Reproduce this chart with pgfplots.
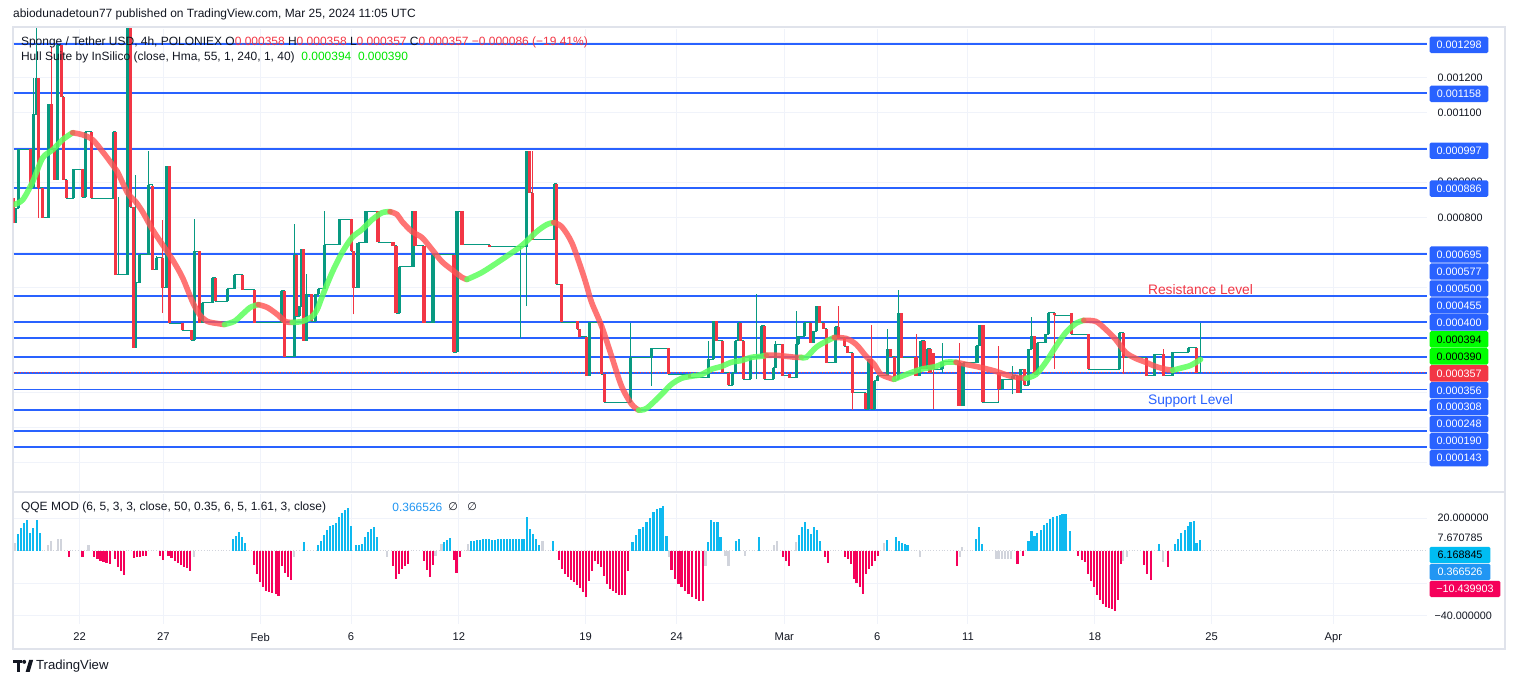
\documentclass[border=0pt]{standalone}
\usepackage{fontspec}
\setmainfont{Liberation Sans}
\newfontfamily\dejavu{DejaVu Sans}
\usepackage{pgfplots}
\pgfplotsset{compat=1.18}
\usepackage{pgfplotstable}
\definecolor{cgreen}{HTML}{089981}
\definecolor{cred}{HTML}{F23645}
\definecolor{lblue}{HTML}{2962FF}
\definecolor{hullg}{HTML}{5CFF5C}
\definecolor{hullr}{HTML}{FF5252}
\definecolor{qblue}{HTML}{0EB9F0}
\definecolor{qred}{HTML}{F5005A}
\definecolor{qgray}{HTML}{D1D4DC}
\definecolor{gridc}{HTML}{F0F3FA}
\definecolor{framec}{HTML}{E0E3EB}
\definecolor{tdark}{HTML}{131722}
\definecolor{lgreen}{HTML}{00E600}
\definecolor{qlab}{HTML}{2196F3}
\definecolor{cyanbox}{HTML}{00BCF2}
\definecolor{gbox}{HTML}{00FF00}

% price in units of 1e-6 USDT; x = time position of the 4h candle
\pgfplotstableread{
x o h l c
11 856 856 785 785
13 785 827 785 827
16 827 996 827 996
28 996 996 885 885
31 885 1199 885 1096
34 1096 1346 1096 1199
36 1199 1199 799 885
40 885 885 799 799
46 799 1125 799 1125
49 1125 1289 996 996
52 996 996 908 908
55 908 1294 908 1294
59 1294 1294 1146 1146
61 1146 1146 908 908
64 908 908 856 856
71 856 939 856 939
80 939 939 858 858
83 858 1046 858 1046
89 1046 1046 855 855
111 855 1046 855 1046
113 1046 1046 637 637
116 637 860 637 637
125 637 1400 637 1346
128 1346 1346 829 829
131 829 829 428 428
133 428 923 428 613
137 613 694 613 694
146 694 991 694 894
150 890 890 651 651
154 651 690 651 685
160 685 794 528 599
164 599 947 599 947
167 947 947 497 497
180 497 497 477 477
189 477 477 449 449
192 449 796 449 704
197 704 704 499 499
200 499 556 499 556
210 556 628 556 628
213 628 628 561 561
225 561 596 561 596
232 596 637 596 637
240 637 637 594 594
252 594 594 499 499
279 499 590 499 590
282 590 590 402 402
292 402 782 402 694
294 694 694 518 518
297 518 547 518 547
299 547 709 547 709
301 709 709 447 447
304 447 640 447 580
309 580 580 503 503
313 503 580 503 580
316 580 596 580 596
322 596 818 596 723
337 723 796 723 796
349 796 796 704 704
351 704 704 523 599
356 599 728 599 728
364 728 818 728 818
376 818 818 730 730
391 730 730 720 720
394 720 720 526 526
397 526 659 526 659
411 659 818 659 818
413 818 818 720 720
422 720 720 499 499
431 499 694 499 694
452 694 694 414 414
455 414 818 414 818
460 818 818 723 723
488 723 723 716 716
519 716 716 456 716
525 716 990 547 990
528 990 990 871 871
531 871 990 737 737
553 737 897 737 897
555 897 897 609 609
560 609 609 501 501
576 504 504 480 480
578 480 480 459 459
585 459 459 347 347
588 347 501 347 501
600 501 501 352 352
603 352 352 271 271
629 271 499 271 399
650 399 426 318 426
667 426 426 352 352
688 352 352 342 342
707 342 447 342 394
712 394 504 394 504
715 504 504 447 447
721 447 447 356 356
727 356 356 320 320
731 320 356 320 356
734 356 447 356 447
737 447 499 447 499
739 499 499 447 447
742 447 447 337 337
749 337 399 337 399
755 399 580 337 404
760 404 490 404 490
763 490 490 337 337
772 337 370 337 370
774 370 447 370 437
781 437 437 347 347
788 352 352 342 342
795 342 532 342 437
797 437 461 437 461
803 461 499 461 499
809 499 499 442 442
812 442 475 442 475
815 475 547 475 547
818 547 547 499 499
822 499 499 482 482
825 482 482 385 385
834 385 488 385 488
837 488 547 456 456
843 456 456 432 432
846 432 432 413 413
851 413 413 249 299
864 299 299 252 252
867 252 394 252 394
870 394 494 252 252
873 252 333 252 333
876 333 347 333 347
886 347 480 347 423
889 423 423 402 402
893 402 402 337 337
897 337 594 337 526
900 526 526 399 399
915 402 466 347 347
918 347 368 347 368
920 368 447 368 447
923 447 447 368 368
926 368 425 368 425
929 425 425 356 356
932 413 413 252 366
941 366 442 356 387
958 387 442 261 261
962 261 385 261 385
976 385 433 385 433
979 433 492 433 492
982 492 492 271 271
998 356 432 275 309
1001 309 337 309 337
1012 337 375 294 347
1017 347 347 299 299
1020 299 366 299 366
1024 366 366 320 320
1028 320 423 320 423
1031 423 516 423 461
1034 461 461 352 352
1037 352 442 352 442
1045 442 466 442 466
1048 466 528 466 528
1054 528 528 366 520
1071 528 528 466 466
1088 466 466 366 366
1119 366 470 366 470
1123 470 470 351 399
1146 399 399 347 347
1154 347 409 347 409
1163 409 423 347 347
1172 347 415 347 415
1188 415 428 415 428
1196 428 428 356 356
1200 356 499 356 356
}\ohlc

\pgfplotstableread{
x v
15 10
18 14
21 17
24 19
27 11
30 14
34 19
37 10.6
231 7.2
234 9.2
237 11.2
240 8.2
243 4.5
302 5.1
316 3.7
319 6.1
322 9.8
325 12.7
328 15.1
331 15.9
334 16.7
337 20.4
340 22.9
343 24.9
346 26.1
349 15.3
354 3.7
357 3.7
360 4.1
363 8.2
366 11.2
369 13.3
372 14.3
375 8.2
442 5.1
445 6.5
448 7.8
469 5.7
472 6.1
475 6.5
478 6.8
481 7
484 7
487 7.2
490 6.8
493 6.8
496 7
499 7
502 7
505 7
508 7
511 7
514 7
517 7
520 7
522 7.2
525 20.4
528 13.3
531 10.2
534 7.2
537 3.7
551 6.1
631 5.1
634.5 9.8
638 13.3
641.5 14.7
645 17.4
648.5 20
652 23.5
655.5 25.5
659 26.5
661.5 27.4
665 9.2
706.6 5.1
709.5 18.8
712.4 17.4
716 17.4
719 8.2
734.7 6.1
737.6 7.2
758 8.2
798 9.6
801 14.3
804 17.4
807 13.3
810 10.2
813 14.3
816 12.9
819 6.1
886 6.5
894.7 8.6
897.6 6.1
900.5 4.5
903.5 4.1
906.4 3.7
975 7.2
978 14.3
981 4.1
1027.7 6.1
1030.6 12.3
1033.6 9.2
1036.5 10.6
1040 12.7
1043 15.9
1046 16.7
1049.4 19.4
1052.3 20.4
1055.8 21.4
1058.8 22.1
1061.7 22.5
1064.6 22.5
1069.3 12.3
1158 4.1
1174 4.1
1177 7.2
1180.6 10.6
1184 12.7
1187 15.3
1190 17.4
1193.5 18.4
1196 4.5
1199.4 6.5
}\qqeblue

\pgfplotstableread{
x v
66.4 -3.7
80 -4.1
91.7 -3.7
95 -5.1
98 -6.1
101 -7.1
104 -7.7
107.5 -8.1
112.6 -5.1
115.8 -9.8
118.6 -12.6
121.7 -14.7
131.6 -4.5
134.4 -4.1
137.5 -3.7
140.7 -3.2
143.9 -3.0
157.3 -3.2
160.5 -5.7
166 -3
169 -4.5
172.3 -6.1
175.5 -7.7
178.7 -8.5
181.8 -9.8
185 -10.6
188 -12.2
251.8 -8.5
255 -14.3
258 -19.4
261 -22.4
264 -24.5
267 -25.5
270 -26.1
273.5 -26.5
276.3 -27.5
279.4 -9.2
282.6 -13.9
285.4 -15.9
288.5 -18
391 -9.2
394 -17.3
397 -14.3
400 -11.2
403 -9.2
406 -8.2
422 -6.1
425 -11.8
428 -15.9
431 -8.5
451.8 -5.7
454.5 -13.9
457.7 -4.1
557.3 -5.7
560.5 -11.2
563.2 -14.3
566.4 -16.3
569 -18
572.3 -19.4
575.5 -20.8
578.3 -22.8
581.4 -25.5
584.2 -28.1
587.3 -18.3
590 -12.6
593 -6.1
596 -8
599 -9.8
602 -15.3
605 -20.4
608 -23.4
611 -24.9
614 -26.1
617 -26.9
620 -26.9
623 -27
626 -12.2
670 -11.8
673.8 -17.3
677 -20.4
680 -22.4
683.7 -24.5
687 -26.5
690.8 -28.1
694.3 -29.6
697.8 -30.6
701.3 -31
782 -4.1
785 -6.1
788 -9.2
824 -3.7
827 -7.5
843.7 -3.7
846.6 -5.1
849.6 -8.2
852.5 -17.3
855.4 -20
859 -22.4
862 -26.5
865 -14.3
867.7 -11.2
871 -9.2
874 -6.1
877 -3
956 -9.2
1016.6 -8.2
1022.4 -3
1077.5 -3
1081 -5.7
1084 -7.1
1087 -14.3
1090 -18.7
1093.3 -22
1096.3 -26.9
1099.2 -30.2
1102 -32.6
1105 -34.7
1108 -35.3
1111 -35.7
1114 -36.7
1117 -30.2
1120 -8.2
1143.7 -8.5
1146.6 -14.3
1150 -18
1167 -10.2
}\qqered

\pgfplotstableread{
x v
12 4.5
45.5 3.7
48.6 6
55 7
58.5 7
86 3.7
191.7 -3.7
291.7 -4.1
385 -3.7
433.6 -3
439.5 4.1
466 4.1
540.7 6.1
667.3 -3.7
704 -9.2
724 -3
727 -9.2
743.5 -3
772.8 3.7
775.7 5.7
795 5.1
883 4.5
919 -4.1
959 -4
961 2.5
995.5 -5.1
998.4 -5.1
1001.4 -5.1
1004.3 -5.1
1007.2 -5.1
1010.1 -5.1
1122.6 -6.1
1126 -4.1
1162.5 -7.1
}\qqegray

\tikzset{
  pbox/.style={fill=#1, anchor=west, minimum width=29.5pt, minimum height=8.2pt,
     inner sep=0pt, rounded corners=0.8pt, text=white,
     font=\fontsize{5.4}{6}\selectfont},
  plab/.style={anchor=west, inner sep=0pt, text=tdark, font=\fontsize{5.4}{6}\selectfont},
}
\pgfplotsset{
  candle/.style={draw=none, mark=none, forget plot,
     error bars/.cd, y dir=plus, y explicit, error mark=none,
     error bar style={draw=#1, line width=0.5pt, solid}},
  body/.style={draw=none, mark=none, forget plot,
     error bars/.cd, y dir=plus, y explicit, error mark=none,
     error bar style={draw=#1, line width=1.6pt, solid}},
}

\begin{document}
\begin{tikzpicture}
\begin{scope}[x=0.5pt,y=-0.5pt]
\useasboundingbox (0,0) rectangle (1515,685);
\fill[white] (0,0) rectangle (1515,685);
\draw[framec, line width=1pt] (10,27) rectangle (1505,650);
\draw[framec, line width=1pt] (10,493) -- (1505,493);
\end{scope}

% ---------------- main price panel ----------------
\begin{axis}[at={(5.5pt,-14.5pt)}, anchor=north west, scale only axis,
  width=708pt, height=231.5pt,
  xmin=11, xmax=1427, ymin=17.14, ymax=1340,
  axis line style={draw=none}, tick style={draw=none},
  xtick={77,161,258,349,457,584,675,783,876,967,1094,1211,1333}, xticklabels={},
  ytick={100,200,...,1300}, yticklabels={},
  grid=major, major grid style={gridc, line width=0.5pt},
  clip=true]
\pgfplotsinvokeforeach{1298,1158,997,886,695,577,500,455,400,356,308,248,190,143}{
  \addplot[lblue, line width=1pt, forget plot] coordinates {(11,#1) (1427,#1)};
}
\addplot[cred, densely dotted, line width=0.5pt, forget plot] coordinates {(11,357) (1427,357)};
% flat (close) line
\addplot[const plot, cgreen, line width=0.5pt, forget plot] table[x=x, y=c] {\ohlc};
% wicks
\addplot[candle=cgreen]
  table[x=x, y=l, y error plus expr={(\thisrow{c}>=\thisrow{o})*(\thisrow{h}-\thisrow{l})}] {\ohlc};
\addplot[candle=cred]
  table[x=x, y=l, y error plus expr={(\thisrow{c}<\thisrow{o})*(\thisrow{h}-\thisrow{l})}] {\ohlc};
% bodies
\addplot[body=cgreen]
  table[x=x, y=o, y error plus expr={max(\thisrow{c}-\thisrow{o},0)}] {\ohlc};
\addplot[body=cred]
  table[x=x, y=c, y error plus expr={max(\thisrow{o}-\thisrow{c},0)}] {\ohlc};
% Hull Suite band
\tikzset{hg/.style={smooth, hullg, line width=2.8pt, opacity=0.85, line cap=round},
         hr/.style={smooth, hullr, line width=2.8pt, opacity=0.8, line cap=round}}
\addplot[hg] coordinates {(11,837) (20,851) (30,903) (40,971) (50,994) (60,1023) (70,1043)};
\addplot[hr] coordinates {(70,1043) (80,1037) (90,1023) (100,989) (110,951) (115,931) (125,871) (133,846) (140,817) (150,766) (160,723) (170,680) (180,629) (190,560) (197,523) (205,503) (215,497) (222,494)};
\addplot[hg] coordinates {(222,494) (232,503) (240,523) (248,543) (256,551)};
\addplot[hr] coordinates {(256,551) (265,543) (275,523) (283,503) (290,500)};
\addplot[hg] coordinates {(290,500) (300,503) (310,517) (315,537) (320,574) (330,643) (340,700) (350,743) (360,766) (370,794) (380,814) (388,817)};
\addplot[hr] coordinates {(388,817) (395,809) (400,789) (410,760) (420,743) (430,709) (440,674) (450,651) (460,629) (465,623)};
\addplot[hg] coordinates {(465,623) (480,643) (500,680) (520,720) (535,760) (545,780) (552,786)};
\addplot[hr] coordinates {(552,786) (560,774) (570,729) (580,650) (585,605) (590,557) (600,489) (610,403) (620,317) (630,266) (637,249)};
\addplot[hg] coordinates {(637,249) (645,254) (660,294) (670,323) (680,340) (690,346) (700,351) (710,366) (720,374) (730,386) (740,391) (750,400) (760,403) (765,406)};
\addplot[hr] coordinates {(765,406) (775,406) (785,403) (795,400) (800,400)};
\addplot[hg] coordinates {(800,400) (805,400) (815,429) (825,446) (833,457)};
\addplot[hr] coordinates {(833,457) (845,454) (855,437) (865,403) (873,380) (880,351) (893,337)};
\addplot[hg] coordinates {(893,337) (905,351) (920,366) (935,374) (945,386) (955,386)};
\addplot[hr] coordinates {(955,386) (965,380) (980,371) (995,360) (1010,346) (1025,340)};
\addplot[hg] coordinates {(1025,340) (1035,351) (1045,386) (1055,431) (1065,471) (1075,497) (1083,506)};
\addplot[hr] coordinates {(1083,506) (1095,503) (1105,480) (1115,451) (1125,414) (1135,397) (1145,386) (1155,374) (1165,366) (1172,363)};
\addplot[hg] coordinates {(1172,363) (1180,369) (1190,377) (1200,394)};
\end{axis}

% ---------------- QQE MOD panel ----------------
\begin{axis}[at={(5.5pt,-247.5pt)}, anchor=north west, scale only axis,
  width=708pt, height=65pt,
  xmin=11, xmax=1427, ymin=-44.89, ymax=34.72,
  axis line style={draw=none}, tick style={draw=none},
  xtick={77,161,258,349,457,584,675,783,876,967,1094,1211,1333},
  xticklabels={22,27,Feb,6,12,19,24,Mar,6,11,18,25,Apr},
  xticklabel style={font=\fontsize{5.6}{6}\selectfont, text=tdark, yshift=-1pt},
  ytick={-40,-20,20}, yticklabels={},
  grid=major, major grid style={gridc, line width=0.5pt},
  clip=true]
\addplot[qgray, densely dotted, line width=0.4pt] coordinates {(11,0) (1427,0)};
\addplot[ycomb, qblue, line width=1.1pt] table[x=x, y=v] {\qqeblue};
\addplot[ycomb, qred, line width=1.1pt] table[x=x, y=v] {\qqered};
\addplot[ycomb, qgray, line width=1.1pt] table[x=x, y=v] {\qqegray};
\end{axis}

% ---------------- texts ----------------
\begin{scope}[x=0.5pt,y=-0.5pt]
\node[anchor=west, inner sep=0pt, text=tdark, font=\fontsize{6}{7}\selectfont] at (10,14)
  {abiodunadetoun77 published on TradingView.com, Mar 25, 2024 11:05 UTC};
\node[anchor=west, inner sep=0pt, text=tdark, font=\fontsize{6}{7}\selectfont] at (18,42)
  {Sponge / Tether USD, 4h, POLONIEX O\textcolor{cred}{0.000358} H\textcolor{cred}{0.000358} L\textcolor{cred}{0.000357} C\textcolor{cred}{0.000357} \textcolor{cred}{−0.000086 (−19.41\%)}};
\node[anchor=west, inner sep=0pt, text=tdark, font=\fontsize{6}{7}\selectfont] at (18,58)
  {Hull Suite by InSilico (close, Hma, 55, 1, 240, 1, 40)\ \ \textcolor{lgreen}{0.000394}\ \ \textcolor{lgreen}{0.000390}};
\node[anchor=west, inner sep=0pt, text=tdark, font=\fontsize{6}{7}\selectfont] at (18,508)
  {QQE MOD (6, 5, 3, 3, close, 50, 0.35, 6, 5, 1.61, 3, close)};
\node[anchor=west, inner sep=0pt, text=qlab, font=\fontsize{6}{7}\selectfont] at (390,508) {0.366526};
\node[anchor=west, inner sep=0pt, text=tdark, font=\fontsize{5.5}{7}\dejavu] at (446,508) {∅};
\node[anchor=west, inner sep=0pt, text=tdark, font=\fontsize{5.5}{7}\dejavu] at (465,508) {∅};

\node[anchor=west, inner sep=0pt, text=cred, font=\fontsize{6.9}{8}\selectfont] at (1147,290) {Resistance Level};
\node[anchor=west, inner sep=0pt, text=lblue, font=\fontsize{6.9}{8}\selectfont] at (1147,402) {Support Level};

% price scale
\node[plab] at (1437,78) {0.001200};
\node[plab] at (1437,113) {0.001100};
\node[plab] at (1437,182) {0.000900};
\node[plab] at (1437,218) {0.000800};
\node[pbox=lblue] at (1429,45) {0.001298};
\node[pbox=lblue] at (1429,94) {0.001158};
\node[pbox=lblue] at (1429,151) {0.000997};
\node[pbox=lblue] at (1429,189) {0.000886};
\node[pbox=lblue] at (1429,255) {0.000695};
\node[pbox=lblue] at (1429,272) {0.000577};
\node[pbox=lblue] at (1429,289) {0.000500};
\node[pbox=lblue] at (1429,306) {0.000455};
\node[pbox=lblue] at (1429,323) {0.000400};
\node[pbox=gbox, text=black] at (1429,340) {0.000394};
\node[pbox=gbox, text=black] at (1429,357) {0.000390};
\node[pbox=cred] at (1429,374) {0.000357};
\node[pbox=lblue] at (1429,391) {0.000356};
\node[pbox=lblue] at (1429,408) {0.000308};
\node[pbox=lblue] at (1429,425) {0.000248};
\node[pbox=lblue] at (1429,442) {0.000190};
\node[pbox=lblue] at (1429,459) {0.000143};

% QQE scale
\node[plab] at (1437,519) {20.000000};
\node[plab] at (1437,539) {7.670785};
\node[pbox=cyanbox, text=black, minimum width=30.5pt] at (1429,556) {6.168845};
\node[pbox=qlab, minimum width=30.5pt] at (1429,573) {0.366526};
\node[pbox=qred, minimum width=35.5pt] at (1429,590) {−10.439903};
\node[plab] at (1434,617) {−40.000000};

% TradingView logo
\fill[tdark] (10,661) rectangle (19,664.5);
\fill[tdark] (14,661) rectangle (17.5,673);
\fill[tdark] (21.5,663) circle (2);
\fill[tdark] (23,673) -- (26.5,661) -- (30.5,661) -- (27,673) -- cycle;
\node[anchor=west, inner sep=0pt, text=tdark, font=\fontsize{6.6}{8}\selectfont] at (33,667.5) {TradingView};
\end{scope}
\end{tikzpicture}
\end{document}
